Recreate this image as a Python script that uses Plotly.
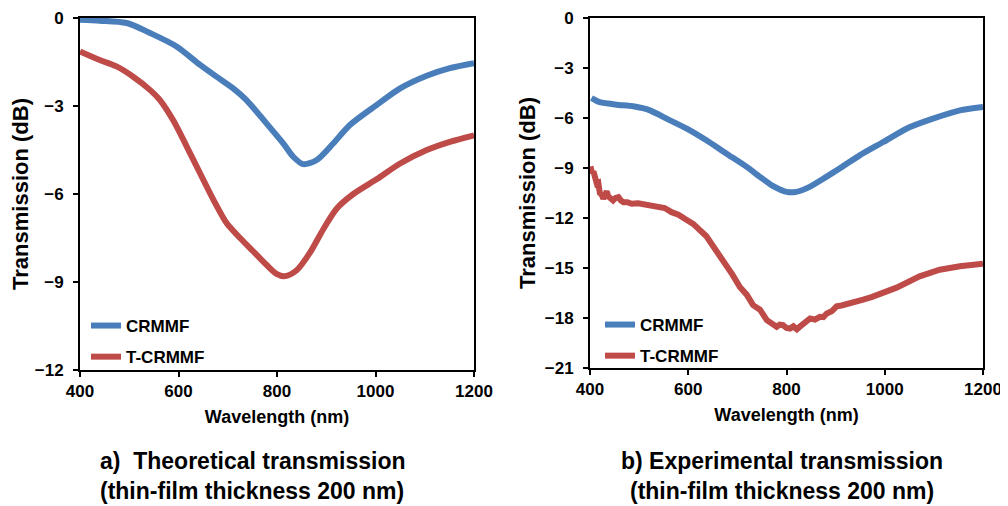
import plotly.graph_objects as go

# ---- data ----
wl_theo_crmmf = [400, 440, 495, 542, 596, 644, 677, 711, 738, 779, 813, 833, 853, 880, 914, 948, 1002, 1050, 1104, 1151, 1200]
t_theo_crmmf = [-0.06, -0.09, -0.17, -0.51, -0.97, -1.6, -2.0, -2.4, -2.8, -3.6, -4.28, -4.73, -4.98, -4.85, -4.28, -3.65, -2.97, -2.4, -1.97, -1.71, -1.54]

wl_theo_t = [400, 440, 474, 508, 542, 562, 589, 617, 644, 671, 698, 725, 752, 779, 799, 816, 840, 867, 894, 921, 955, 1002, 1050, 1104, 1151, 1200]
t_theo_t = [-1.14, -1.43, -1.65, -2.0, -2.45, -2.79, -3.48, -4.39, -5.3, -6.2, -7.0, -7.5, -7.96, -8.42, -8.72, -8.8, -8.6, -8.0, -7.2, -6.5, -6.0, -5.5, -4.96, -4.5, -4.22, -4.0]

wl_exp_crmmf = [403, 412, 420, 454, 488, 522, 556, 597, 637, 678, 719, 746, 773, 800, 820, 847, 881, 908, 949, 997, 1044, 1098, 1153, 1200]
t_exp_crmmf = [-4.8, -4.95, -5.05, -5.2, -5.3, -5.54, -6.04, -6.64, -7.34, -8.14, -8.93, -9.53, -10.09, -10.43, -10.43, -10.13, -9.53, -9.03, -8.24, -7.44, -6.64, -6.04, -5.54, -5.34]

wl_exp_t = [401, 404, 407, 410, 414, 417, 420, 424, 427, 431, 434, 437, 439, 443, 447, 452, 458, 463, 468, 476, 485, 498, 512, 525, 539, 552, 566, 580, 593, 610, 637, 664, 690, 705, 719, 732, 746, 760, 770, 780, 786, 793, 800, 807, 814, 821, 826, 831, 840, 848, 858, 868, 875, 882, 892, 902, 912, 923, 940, 956, 973, 990, 1024, 1071, 1112, 1153, 1200]
t_exp_t = [-8.9, -9.3, -9.2, -9.6, -9.95, -9.9, -10.5, -10.6, -10.85, -10.6, -10.4, -10.7, -10.75, -10.9, -10.95, -10.8, -10.75, -10.95, -11.05, -11.05, -11.15, -11.12, -11.19, -11.22, -11.35, -11.4, -11.65, -11.8, -12.05, -12.35, -13.1, -14.2, -15.4, -16.14, -16.6, -17.23, -17.5, -18.13, -18.35, -18.53, -18.4, -18.43, -18.6, -18.63, -18.5, -18.68, -18.55, -18.43, -18.2, -18.03, -18.1, -17.93, -17.95, -17.73, -17.6, -17.3, -17.25, -17.18, -17.05, -16.9, -16.75, -16.54, -16.18, -15.5, -15.1, -14.9, -14.75]

x_ticks = [400, 600, 800, 1000, 1200]
y_ticks_a = [0, -3, -6, -9, -12]
y_ticks_b = [0, -3, -6, -9, -12, -15, -18, -21]

BLUE = "#4a7ebb"
RED = "#be4b48"
FONT = "Liberation Sans"

# page offset (browser body margin) and figure size
OFF = 8
W, H = 1000, 498

def px(xp):
    return (xp - OFF) / W

def py(yp):
    return 1 - (yp - OFF) / H

fig = go.Figure()
fig.add_trace(go.Scatter(x=wl_theo_crmmf, y=t_theo_crmmf, mode="lines", name="CRMMF",
                         line=dict(color=BLUE, width=6, shape="spline", smoothing=0.8),
                         xaxis="x", yaxis="y", legend="legend", legendgroup="a1"))
fig.add_trace(go.Scatter(x=wl_theo_t, y=t_theo_t, mode="lines", name="T-CRMMF",
                         line=dict(color=RED, width=6, shape="spline", smoothing=0.8),
                         xaxis="x", yaxis="y", legend="legend", legendgroup="a2"))
fig.add_trace(go.Scatter(x=wl_exp_crmmf, y=t_exp_crmmf, mode="lines", name="CRMMF",
                         line=dict(color=BLUE, width=6, shape="spline", smoothing=0.6),
                         xaxis="x2", yaxis="y2", legend="legend2", legendgroup="b1"))
fig.add_trace(go.Scatter(x=wl_exp_t, y=t_exp_t, mode="lines", name="T-CRMMF",
                         line=dict(color=RED, width=6),
                         xaxis="x2", yaxis="y2", legend="legend2", legendgroup="b2"))

tickfont = dict(family=FONT, size=17, color="black", weight="bold")
titlefont = dict(family=FONT, size=22, color="black", weight="bold")
xtitlefont = dict(family=FONT, size=18, color="black", weight="bold")

def xaxis(domain, anchor):
    return dict(domain=domain, anchor=anchor, range=[400, 1200], tickvals=x_ticks,
                showgrid=False, zeroline=False, showline=True, linecolor="black", linewidth=2,
                mirror=True, ticks="outside", ticklen=5, tickwidth=1.5, tickcolor="black",
                automargin=False,
                tickfont=tickfont, title=dict(text="Wavelength (nm)", font=xtitlefont, standoff=10))

def yaxis(domain, anchor, rng, vals):
    return dict(domain=domain, anchor=anchor, range=rng, tickvals=vals,
                showgrid=False, zeroline=False, showline=True, linecolor="black", linewidth=2,
                mirror=True, ticks="outside", ticklen=5, tickwidth=1.5, tickcolor="black",
                automargin=False, ticklabelstandoff=6,
                tickfont=tickfont, title=dict(text="Transmission (dB)", font=titlefont, standoff=3))

legfont = dict(family=FONT, size=17, color="black", weight="bold")
capfont = dict(family=FONT, size=23, color="black", weight="bold")

def cap(text, x, y):
    return dict(text=text, x=px(x), y=py(y), xref="paper", yref="paper", xanchor="center",
                yanchor="middle", showarrow=False, font=capfont)

fig.update_layout(
    width=W, height=H,
    margin=dict(l=0, r=0, t=0, b=0, autoexpand=False),
    paper_bgcolor="white", plot_bgcolor="white",
    xaxis=xaxis([px(80), px(474)], "y"),
    yaxis=yaxis([py(370), py(18)], "x", [-12, 0], y_ticks_a),
    xaxis2=xaxis([px(590), px(983)], "y2"),
    yaxis2=yaxis([py(368), py(18)], "x2", [-21, 0.0001], y_ticks_b),
    legend=dict(x=px(86), y=py(308), xanchor="left", yanchor="top", bgcolor="rgba(0,0,0,0)",
                font=legfont, itemwidth=30, tracegroupgap=6),
    legend2=dict(x=px(600), y=py(307), xanchor="left", yanchor="top", bgcolor="rgba(0,0,0,0)",
                 font=legfont, itemwidth=30, tracegroupgap=6),
    annotations=[
        cap("a)  Theoretical transmission", 252, 461),
        cap("(thin-film thickness 200 nm)", 252, 491),
        cap("b) Experimental transmission", 782, 461),
        cap("(thin-film thickness 200 nm)", 782, 491),
    ],
)

fig.write_html("out.html")
